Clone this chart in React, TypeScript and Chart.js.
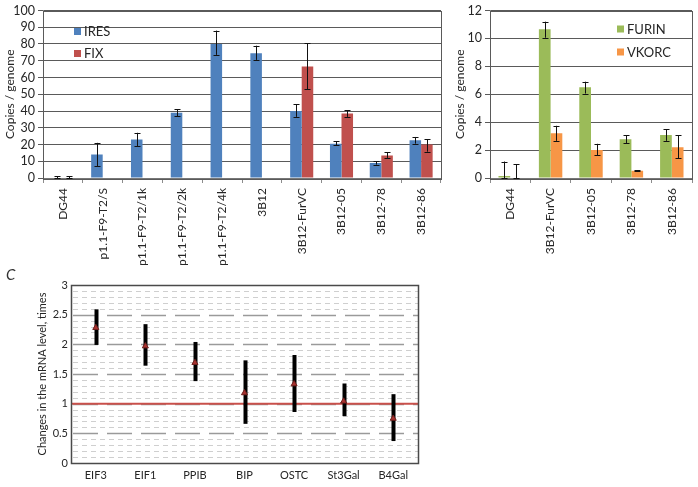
import React, { useEffect, useRef } from 'react';
import { Chart, registerables } from 'chart.js';

Chart.register(...registerables);

// ---------- Data: panel A (IRES / FIX) ----------
const cellLinesA = ['DG44', 'p1.1-F9-T2/S', 'p1.1-F9-T2/1k', 'p1.1-F9-T2/2k', 'p1.1-F9-T2/4k', '3B12', '3B12-FurVC', '3B12-05', '3B12-78', '3B12-86'];
const iresValues = [0.3, 14, 23, 39, 80, 74.5, 40, 20.5, 9, 22.5];
const iresLow = [0, 7, 19, 37, 73.5, 70.5, 36.5, 19.5, 8, 20.5];
const iresHigh = [1, 21, 27, 41, 88, 79, 44, 22, 10, 24.5];
const fixValues = [0, null, null, null, null, null, 66.5, 38.5, 13.5, 20];
const fixLow = [0, null, null, null, null, null, 53, 36.5, 12, 15.7];
const fixHigh = [1, null, null, null, null, null, 80.5, 40.5, 15.5, 23.2];
const yTicksA = { min: 0, max: 100, step: 10 };

// ---------- Data: panel B (FURIN / VKORC) ----------
const cellLinesB = ['DG44', '3B12-FurVC', '3B12-05', '3B12-78', '3B12-86'];
const furinValues = [0.15, 10.65, 6.5, 2.78, 3.08];
const furinLow = [0, 10.05, 6.05, 2.5, 2.66];
const furinHigh = [1.18, 11.2, 6.9, 3.05, 3.5];
const vkorcValues = [0, 3.2, 2.0, 0.52, 2.2];
const vkorcLow = [0, 2.66, 1.64, 0.48, 1.4];
const vkorcHigh = [1.0, 3.74, 2.45, 0.56, 3.05];
const yTicksB = { min: 0, max: 12, step: 2 };

// ---------- Data: panel C (mRNA level changes) ----------
const genes = ['EIF3', 'EIF1', 'PPIB', 'BIP', 'OSTC', 'St3Gal', 'B4Gal'];
const foldChange = [2.28, 1.97, 1.69, 1.18, 1.33, 1.04, 0.75];
const foldLow = [1.99, 1.64, 1.38, 0.66, 0.86, 0.79, 0.37];
const foldHigh = [2.59, 2.34, 2.04, 1.73, 1.82, 1.34, 1.16];
const referenceLevel = 1;
const yTicksC = { min: 0, max: 3, step: 0.5, minorStep: 0.1 };

// ---------- Styles ----------
const FONT = 'Lato, "Open Sans", "DejaVu Sans", sans-serif';
const TEXT = '#262626';
const BLUE = '#4F81BD';
const RED = '#C0504D';
const GREEN = '#9BBB59';
const ORANGE = '#F79646';

type Nullable = (number | null)[];

function errorBarPlugin(id: string, sets: { ds: number; low: Nullable; high: Nullable }[], style: { color: string; width: number; cap: number }, phase: 'before' | 'after') {
  const draw = (chart: any) => {
    const { ctx } = chart;
    const yScale = chart.scales.y;
    ctx.save();
    ctx.strokeStyle = style.color;
    ctx.lineWidth = style.width;
    sets.forEach((s) => {
      const meta = chart.getDatasetMeta(s.ds);
      meta.data.forEach((el: any, i: number) => {
        const lo = s.low[i];
        const hi = s.high[i];
        if (lo == null || hi == null) return;
        const x = Math.round(el.x) + 0.5;
        const yl = yScale.getPixelForValue(lo);
        const yh = yScale.getPixelForValue(hi);
        ctx.beginPath();
        ctx.moveTo(x, yl);
        ctx.lineTo(x, yh);
        if (style.cap > 0) {
          ctx.moveTo(x - style.cap, Math.round(yl) + 0.5);
          ctx.lineTo(x + style.cap, Math.round(yl) + 0.5);
          ctx.moveTo(x - style.cap, Math.round(yh) + 0.5);
          ctx.lineTo(x + style.cap, Math.round(yh) + 0.5);
        }
        ctx.stroke();
      });
    });
    ctx.restore();
  };
  return phase === 'after' ? { id, afterDatasetsDraw: draw } : { id, beforeDatasetsDraw: draw };
}

function legendPlugin(id: string, dx: number, dy: number, gap: number) {
  return {
    id,
    afterDraw(chart: any) {
      const { ctx, chartArea } = chart;
      ctx.save();
      ctx.font = `13px ${FONT}`;
      ctx.textBaseline = 'middle';
      chart.data.datasets.forEach((d: any, i: number) => {
        const x = chartArea.left + dx;
        const y = chartArea.top + dy + i * gap;
        ctx.fillStyle = d.backgroundColor;
        ctx.fillRect(x, y - 3.5, 7, 7);
        ctx.fillStyle = TEXT;
        ctx.fillText(d.label, x + 10, y + 0.5);
      });
      ctx.restore();
    },
  };
}

function framePlugin(id: string, color: string, width: number) {
  return {
    id,
    afterDraw(chart: any) {
      const { ctx, chartArea } = chart;
      ctx.save();
      ctx.strokeStyle = color;
      ctx.lineWidth = width;
      ctx.strokeRect(Math.round(chartArea.left) + 0.5, Math.round(chartArea.top) + 0.5, Math.round(chartArea.right - chartArea.left), Math.round(chartArea.bottom - chartArea.top));
      ctx.restore();
    },
  };
}

function barOptions(yr: { min: number; max: number; step: number }, yWidth: number, xHeight: number, padRight: number) {
  return {
    animation: false,
    responsive: false,
    layout: { padding: { top: 10, right: padRight, left: 0, bottom: 0 } },
    plugins: { legend: { display: false }, tooltip: { enabled: false } },
    scales: {
      x: {
        offset: true,
        grid: { drawOnChartArea: false, drawTicks: true, tickLength: 5, color: '#8c8c8c', offset: true },
        border: { color: '#777', width: 1 },
        ticks: { minRotation: 90, maxRotation: 90, autoSkip: false, padding: 5, color: TEXT, font: { family: FONT, size: 12 } },
        afterFit: (s: any) => { s.height = xHeight; },
      },
      y: {
        min: yr.min,
        max: yr.max,
        ticks: { stepSize: yr.step, autoSkip: false, padding: 3, color: TEXT, font: { family: FONT, size: 12.5 } },
        grid: { color: '#5a5a5a', tickLength: 5, lineWidth: 1 },
        border: { color: '#8c8c8c' },
        title: { display: true, text: 'Copies / genome', color: TEXT, font: { family: FONT, size: 12 }, padding: { top: 3, bottom: 3 } },
        afterFit: (s: any) => { s.width = yWidth; },
      },
    },
  };
}

export default function App() {
  const refA = useRef<HTMLCanvasElement>(null);
  const refB = useRef<HTMLCanvasElement>(null);
  const refC = useRef<HTMLCanvasElement>(null);

  useEffect(() => {
    const charts: Chart[] = [];

    charts.push(new Chart(refA.current as HTMLCanvasElement, {
      type: 'bar',
      data: {
        labels: cellLinesA,
        datasets: [
          { label: 'IRES', data: iresValues, backgroundColor: BLUE, categoryPercentage: 0.58, barPercentage: 1 },
          { label: 'FIX', data: fixValues as any, backgroundColor: RED, categoryPercentage: 0.58, barPercentage: 1 },
        ],
      },
      options: barOptions(yTicksA, 43, 87, 9) as any,
      plugins: [
        errorBarPlugin('ebA', [{ ds: 0, low: iresLow, high: iresHigh }, { ds: 1, low: fixLow, high: fixHigh }], { color: '#111', width: 1, cap: 3 }, 'after'),
        legendPlugin('lgA', 31, 21, 22),
        framePlugin('frA', '#5a5a5a', 1),
      ],
    }));

    charts.push(new Chart(refB.current as HTMLCanvasElement, {
      type: 'bar',
      data: {
        labels: cellLinesB,
        datasets: [
          { label: 'FURIN', data: furinValues, backgroundColor: GREEN, categoryPercentage: 0.58, barPercentage: 1 },
          { label: 'VKORC', data: vkorcValues, backgroundColor: ORANGE, categoryPercentage: 0.58, barPercentage: 1 },
        ],
      },
      options: barOptions(yTicksB, 40, 87, 6) as any,
      plugins: [
        errorBarPlugin('ebB', [{ ds: 0, low: furinLow, high: furinHigh }, { ds: 1, low: vkorcLow, high: vkorcHigh }], { color: '#111', width: 1, cap: 3 }, 'after'),
        legendPlugin('lgB', 127, 18.5, 23),
        framePlugin('frB', '#5a5a5a', 1),
      ],
    }));

    const gridC = {
      id: 'gridC',
      beforeDatasetsDraw(chart: any) {
        const { ctx, chartArea } = chart;
        const y = chart.scales.y;
        ctx.save();
        const n = Math.round((yTicksC.max - yTicksC.min) / yTicksC.minorStep);
        const perMajor = Math.round(yTicksC.step / yTicksC.minorStep);
        for (let i = 1; i < n; i++) {
          const v = yTicksC.min + i * yTicksC.minorStep;
          const py = Math.round(y.getPixelForValue(v)) + 0.5;
          const major = i % perMajor === 0;
          ctx.beginPath();
          ctx.setLineDash(major ? [25, 9] : [5, 4]);
          ctx.strokeStyle = major ? '#9a9a9a' : '#cfcfcf';
          ctx.lineWidth = major ? 1.5 : 1;
          ctx.moveTo(chartArea.left + 2, py);
          ctx.lineTo(chartArea.right, py);
          ctx.stroke();
        }
        ctx.setLineDash([]);
        const ry = y.getPixelForValue(referenceLevel);
        ctx.beginPath();
        ctx.strokeStyle = '#C9504B';
        ctx.lineWidth = 2;
        ctx.moveTo(chartArea.left, ry);
        ctx.lineTo(chartArea.right, ry);
        ctx.stroke();
        ctx.restore();
      },
    };

    charts.push(new Chart(refC.current as HTMLCanvasElement, {
      type: 'line',
      data: {
        labels: genes,
        datasets: [
          {
            label: 'mRNA',
            data: foldChange,
            showLine: false,
            pointStyle: 'triangle',
            pointRadius: 3.5,
            pointBackgroundColor: '#A8322F',
            pointBorderColor: '#6E1F1D',
            pointBorderWidth: 1,
          },
        ],
      },
      options: {
        animation: false,
        responsive: false,
        layout: { padding: { top: 15, right: 12, left: 31, bottom: 0 } },
        plugins: { legend: { display: false }, tooltip: { enabled: false } },
        scales: {
          x: {
            offset: true,
            grid: { display: false, drawTicks: false },
            border: { display: false },
            ticks: { padding: 6, minRotation: 0, maxRotation: 0, autoSkip: false, color: TEXT, font: { family: FONT, size: 11 } },
            afterFit: (s: any) => { s.height = 24; },
          },
          y: {
            min: yTicksC.min,
            max: yTicksC.max,
            grid: { display: false, drawTicks: false },
            border: { display: false },
            ticks: { stepSize: yTicksC.step, autoSkip: false, padding: 3, color: TEXT, font: { family: FONT, size: 11 }, callback: (v: any) => String(v) },
            title: { display: true, text: 'Changes in the mRNA level, times', color: TEXT, font: { family: FONT, size: 11 }, padding: { top: 5, bottom: 3 } },
            afterFit: (s: any) => { s.width = 40; },
          },
        },
      } as any,
      plugins: [
        gridC,
        errorBarPlugin('ebC', [{ ds: 0, low: foldLow, high: foldHigh }], { color: '#000', width: 4, cap: 0 }, 'before'),
        framePlugin('frC', '#4a4a4a', 1.5),
      ],
    }));

    return () => charts.forEach((c) => c.destroy());
  }, []);

  return (
    <div style={{ position: 'fixed', left: 0, top: 0, width: 698, height: 487, background: '#fff', overflow: 'hidden' }}>
      <canvas ref={refA} width={450} height={265} style={{ position: 'absolute', left: 0, top: 0, width: 450, height: 265 }} />
      <canvas ref={refB} width={248} height={265} style={{ position: 'absolute', left: 450, top: 0, width: 248, height: 265 }} />
      <canvas ref={refC} width={430} height={217} style={{ position: 'absolute', left: 0, top: 270, width: 430, height: 217 }} />
      <div style={{ position: 'absolute', left: 6, top: 266, fontFamily: FONT, fontStyle: 'italic', fontSize: 15, color: '#333', lineHeight: '16px' }}>C</div>
    </div>
  );
}
